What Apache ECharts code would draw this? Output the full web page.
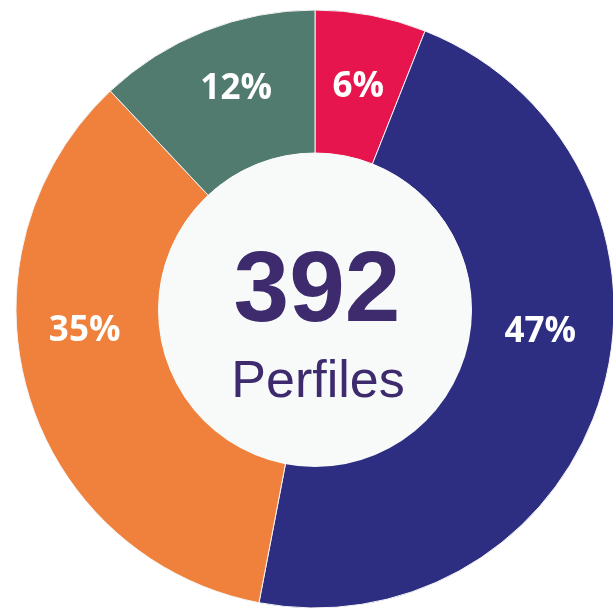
<!DOCTYPE html>
<html>
<head>
<meta charset="utf-8">
<script src="https://cdn.jsdelivr.net/npm/echarts@6/dist/echarts.min.js"></script>
<style>
  html, body { margin: 0; padding: 0; background: #fff; }
  #chart { width: 613px; height: 611px; }
</style>
</head>
<body>
<div id="chart"></div>
<script>
// segment data, clockwise from the top
const categories = ['A', 'B', 'C', 'D'];
const values = [6, 47, 35, 12];
const colors = ['#E6154D', '#2D2E82', '#EF813C', '#507B6E'];
const totalLabel = '392';
const subLabel = 'Perfiles';

const labelOffsets = [[0, 4], [4, -41], [-9, -42], [6, -6]];

const chart = echarts.init(document.getElementById('chart'));

chart.setOption({
  animation: false,
  series: [
    {
      type: 'pie',
      center: [315, 310],
      radius: [0, 157],
      silent: true,
      z: 1,
      label: { show: false },
      itemStyle: { color: '#F8FAFA' },
      data: [{ value: 1, name: 'center' }]
    },
    {
      type: 'pie',
      center: [315, 309],
      radius: [156, 299],
      startAngle: 90,
      clockwise: true,
      z: 0,
      itemStyle: { borderColor: '#f4f4f4', borderWidth: 1 },
      label: {
        show: true,
        position: 'inside',
        color: '#fff',
        fontFamily: 'Open Sans',
        fontWeight: 'bold',
        fontSize: 35,
        formatter: p => p.value + '%'
      },
      data: categories.map((c, i) => ({
        name: c,
        value: values[i],
        itemStyle: { color: colors[i] },
        label: { offset: labelOffsets[i] }
      }))
    }
  ],
  graphic: [
    {
      type: 'text',
      z: 100,
      x: 317,
      y: 243,
      style: {
        text: totalLabel,
        align: 'center',
        verticalAlign: 'top',
        fill: '#3D2B6E',
        font: 'bold 100px "Liberation Sans", Arial, sans-serif'
      }
    },
    {
      type: 'text',
      z: 100,
      x: 318,
      y: 357,
      style: {
        text: subLabel,
        align: 'center',
        verticalAlign: 'top',
        fill: '#3D2B6E',
        font: '52px "Liberation Sans", Arial, sans-serif'
      }
    }
  ]
});
</script>
</body>
</html>
